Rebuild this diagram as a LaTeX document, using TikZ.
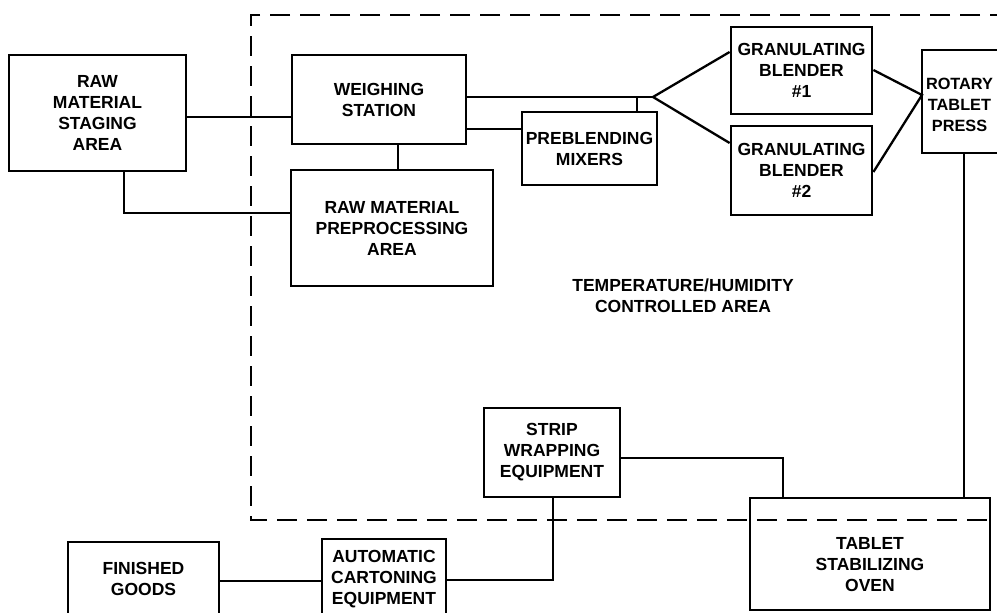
\documentclass[tikz,border=0pt]{standalone}
\usepackage{fontspec}
\setmainfont{Liberation Sans}
\begin{document}
\begin{tikzpicture}[x=1pt,y=-1pt,
  txt/.style={font=\bfseries\fontsize{17.5}{21}\selectfont, align=center, inner sep=0pt},
  box/.style={txt, draw, line width=2.8pt},
  conn/.style={line width=2.3pt},
  zone/.style={line width=2.5pt, dash pattern=on 20pt off 10pt}]
\useasboundingbox (0,0) rectangle (997,613);
% region
\draw[zone] (1010,15) -- (251,15) -- (251,520) -- (1010,520);
\node[txt] (zonelabel) at (683,296) {TEMPERATURE/HUMIDITY\\CONTROLLED AREA};
% boxes
\node[box, minimum width=177pt, minimum height=116pt] (stage) at (97.5,113) {RAW\\MATERIAL\\STAGING\\AREA};
\node[box, minimum width=174pt, minimum height=89pt] (weigh) at (379,99.5) {WEIGHING\\STATION};
\node[box, minimum width=202pt, minimum height=116pt] (prep) at (392,228) {RAW MATERIAL\\PREPROCESSING\\AREA};
\node[box, minimum width=135pt, minimum height=73pt] (preb) at (589.5,148.5) {PREBLENDING\\MIXERS};
\node[box, minimum width=141pt, minimum height=87pt] (g1) at (801.5,70.5) {GRANULATING\\BLENDER\\\#1};
\node[box, minimum width=141pt, minimum height=89pt] (g2) at (801.5,170.5) {GRANULATING\\BLENDER\\\#2};
\node[draw, line width=2.8pt, minimum width=86pt, minimum height=103pt, inner sep=0pt] (rot) at (965,101.5) {};
\node[txt, font=\bfseries\fontsize{16.3}{21}\selectfont] (rottext) at (959.5,105) {ROTARY\\TABLET\\PRESS};
\node[box, minimum width=136pt, minimum height=89pt] (strip) at (552,452.5) {STRIP\\WRAPPING\\EQUIPMENT};
\node[box, minimum width=124pt, minimum height=80pt] (cart) at (384,579) {AUTOMATIC\\CARTONING\\EQUIPMENT};
\node[box, minimum width=151pt, minimum height=74pt] (fin) at (143.5,579) {FINISHED\\GOODS};
\node[draw, line width=2.8pt, minimum width=240pt, minimum height=112pt, inner sep=0pt] (oven) at (870,554) {};
\node[txt] (oventext) at (870,565) {TABLET\\STABILIZING\\OVEN};
% connectors
\coordinate (J) at (653,97);
\coordinate (R) at (922,95);
\draw[conn] (stage.east |- 0,117) -- (weigh.west |- 0,117);
\draw[conn] (stage.south -| 124,0) |- (prep.west |- 0,213);
\draw[conn] (weigh.south -| 398,0) -- (prep.north -| 398,0);
\draw[conn] (weigh.east |- 0,97) -- (J);
\draw[conn] (weigh.east |- 0,129) -- (preb.west |- 0,129);
\draw[conn] (J -| 637,0) -- (preb.north -| 637,0);
\draw[conn] (g1.west |- 0,52) -- (J) -- (g2.west |- 0,143);
\draw[conn] (g1.east |- 0,70) -- (R) -- (g2.east |- 0,172);
\draw[conn] (rot.south -| 964,0) -- (oven.north -| 964,0);
\draw[conn] (strip.east |- 0,458) -| (oven.north -| 783,0);
\draw[conn] (strip.south -| 553,0) |- (cart.east |- 0,580);
\draw[conn] (cart.west |- 0,581) -- (fin.east |- 0,581);
\end{tikzpicture}
\end{document}
